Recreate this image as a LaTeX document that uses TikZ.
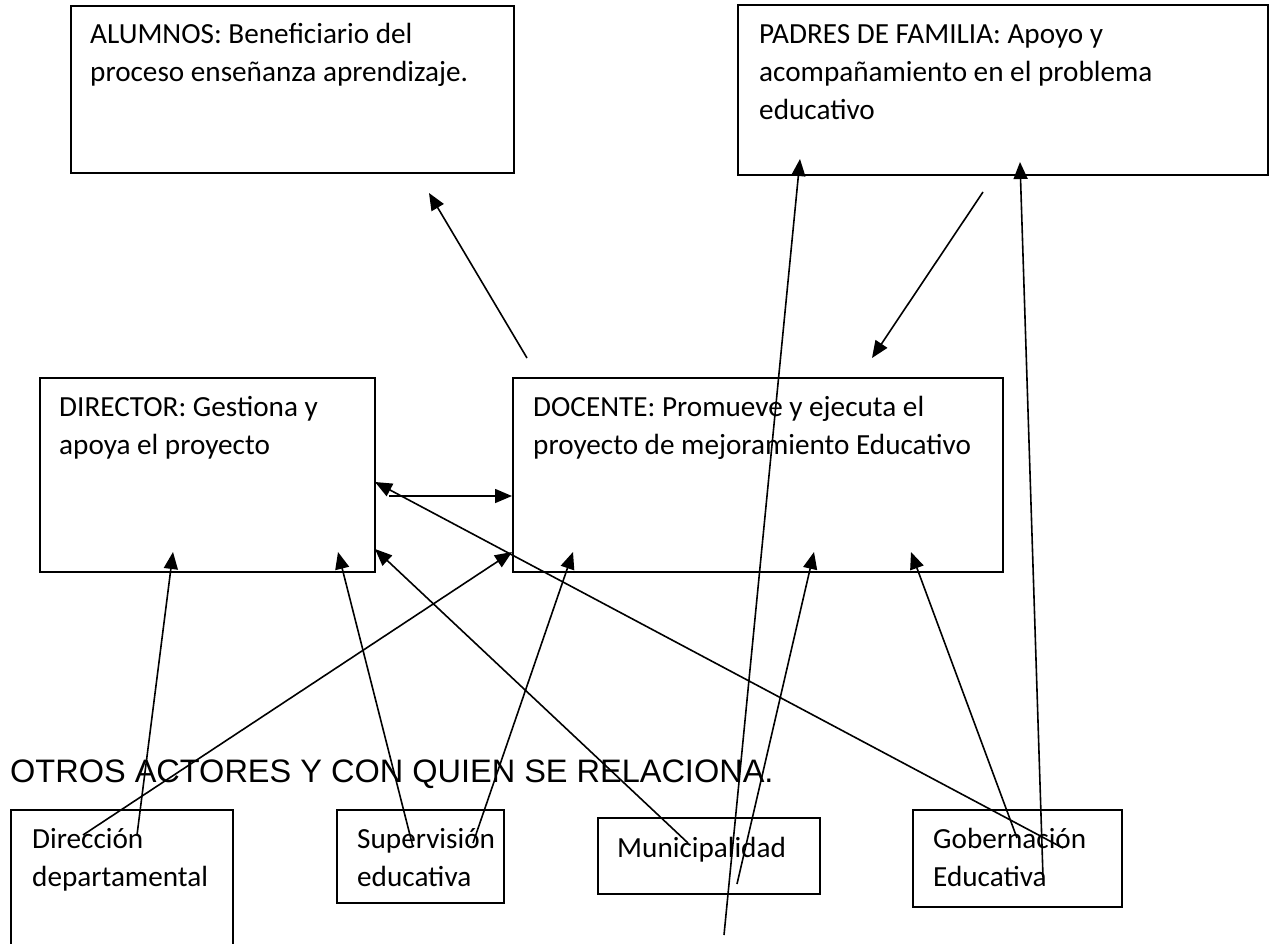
\documentclass[tikz,border=0pt]{standalone}
\usepackage{fontspec}
\setmainfont{Carlito}
\newfontfamily\arialf{Liberation Sans}
\usetikzlibrary{arrows.meta}
\begin{document}
\begin{tikzpicture}[x=1pt,y=-1pt,
  box/.style={draw=black, line width=1.9pt, anchor=north west, inner sep=0pt},
  txt/.style={anchor=base west, inner sep=0pt, font=\fontsize{29.2}{34}\selectfont},
  conn/.style={line width=1.6pt, -{Triangle[length=17pt,width=14pt]}}]
\clip (0,0) rectangle (1277,943);
\fill[white] (0,0) rectangle (1277,943);
% boxes
\node[box, minimum width=443pt, minimum height=167pt] (alum) at (70,5) {};
\node[box, minimum width=530pt, minimum height=170pt] (padres) at (737,4) {};
\node[box, minimum width=335pt, minimum height=194pt] (dir) at (39,377) {};
\node[box, minimum width=490pt, minimum height=194pt] (doc) at (512,377) {};
\node[box, minimum width=222pt, minimum height=160pt] (ddep) at (10,809) {};
\node[box, minimum width=167pt, minimum height=93pt] (sup) at (336,809) {};
\node[box, minimum width=222pt, minimum height=76pt] (mun) at (597,817) {};
\node[box, minimum width=209pt, minimum height=97pt] (gob) at (912,809) {};
% texts
\node[txt] (t1a) at (90,43) {ALUMNOS: Beneficiario del};
\node[txt] (t1b) at (90,81) {proceso enseñanza aprendizaje.};
\node[txt] (t2a) at (759,43) {PADRES DE FAMILIA: Apoyo y};
\node[txt] (t2b) at (759,81) {acompañamiento en el problema};
\node[txt] (t2c) at (759,119) {educativo};
\node[txt] (t3a) at (59,416) {DIRECTOR: Gestiona y};
\node[txt] (t3b) at (59,454) {apoya el proyecto};
\node[txt] (t4a) at (533,416) {DOCENTE: Promueve y ejecuta el};
\node[txt] (t4b) at (533,454) {proyecto de mejoramiento Educativo};
\node[anchor=base west, inner sep=0pt, font=\arialf\fontsize{32.5}{38}\selectfont] (otros) at (10,782) {OTROS ACTORES Y CON QUIEN SE RELACIONA.};
\node[txt] (t5a) at (32,848) {Dirección};
\node[txt] (t5b) at (32,886) {departamental};
\node[txt] (t6a) at (357,848) {Supervisión};
\node[txt] (t6b) at (357,886) {educativa};
\node[txt] (t7a) at (617,857) {Municipalidad};
\node[txt] (t8a) at (933,848) {Gobernación};
\node[txt] (t8b) at (933,886) {Educativa};
% connector ends
\coordinate (c1s) at (527,358);  \coordinate (c1e) at (429,193);
\coordinate (c2s) at (983,192);  \coordinate (c2e) at (872,358);
\coordinate (c3s) at (389,496);  \coordinate (c3e) at (512,496);
\coordinate (c4s) at (1063,848); \coordinate (c4e) at (375,482);
\coordinate (c5s) at (137,835);  \coordinate (c5e) at (173,552);
\coordinate (c6s) at (83,835);   \coordinate (c6e) at (512,552);
\coordinate (c7s) at (413,847);  \coordinate (c7e) at (338,552);
\coordinate (c8s) at (473,843);  \coordinate (c8e) at (573,552);
\coordinate (c9s) at (688,843);  \coordinate (c9e) at (375,549);
\coordinate (c10s) at (724,935); \coordinate (c10e) at (800,159);
\coordinate (c11s) at (737,884); \coordinate (c11e) at (814,552);
\coordinate (c12s) at (1017,838);\coordinate (c12e) at (911,552);
\coordinate (c13s) at (1043,877);\coordinate (c13e) at (1020,162);
% connectors
\draw[conn] (c1s) -- (c1e);
\draw[conn] (c2s) -- (c2e);
\draw[conn] (c3s) -- (c3e);
\draw[conn] (c4s) -- (c4e);
\draw[conn] (c5s) -- (c5e);
\draw[conn] (c6s) -- (c6e);
\draw[conn] (c7s) -- (c7e);
\draw[conn] (c8s) -- (c8e);
\draw[conn] (c9s) -- (c9e);
\draw[conn] (c10s) -- (c10e);
\draw[conn] (c11s) -- (c11e);
\draw[conn] (c12s) -- (c12e);
\draw[conn] (c13s) -- (c13e);
\end{tikzpicture}
\end{document}
